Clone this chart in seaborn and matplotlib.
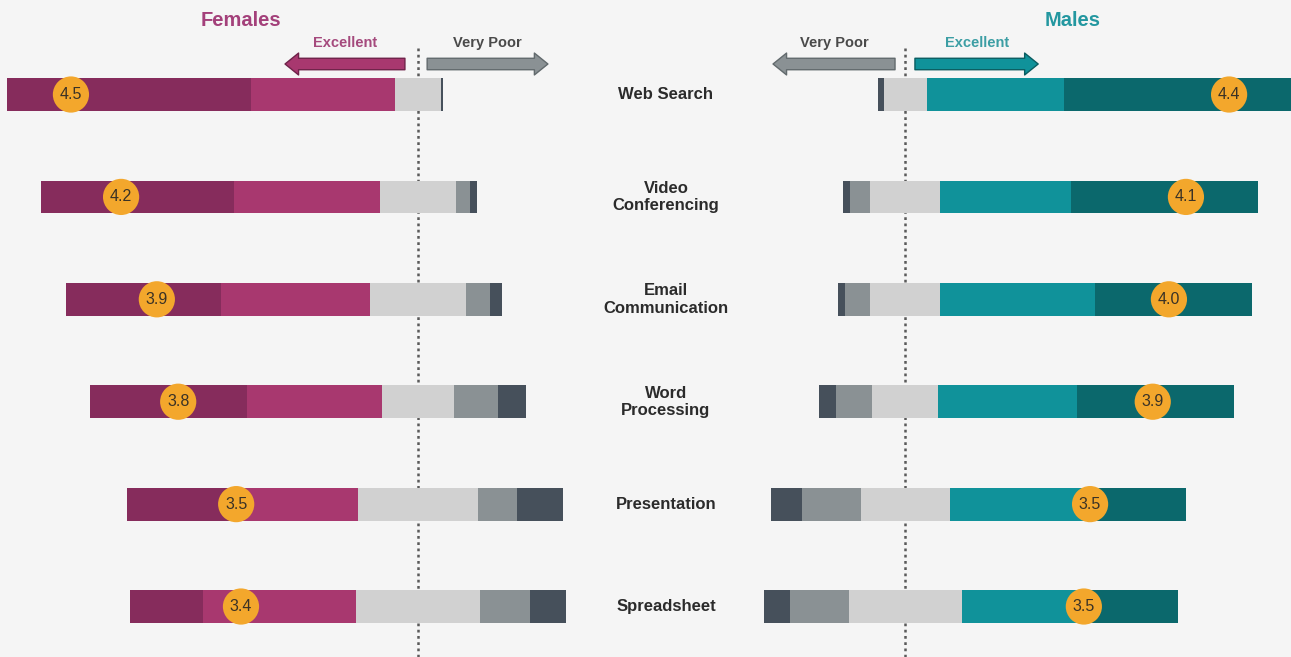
import numpy as np
import pandas as pd
import matplotlib.pyplot as plt
import matplotlib.transforms as mtransforms
import seaborn as sns

# ---------------------------
# data (percent of respondents per rating)
# ---------------------------
categories = ["Web Search", "Video\nConferencing", "Email\nCommunication",
              "Word\nProcessing", "Presentation", "Spreadsheet"]
levels = ["Very Poor", "Poor", "Average", "Good", "Excellent"]

female_very_poor = [0.5, 1.6, 2.8, 6.4, 10.7, 8.2]
female_poor = [0.0, 3.2, 5.5, 10.2, 8.9, 11.5]
female_average = [10.5, 17.6, 22.0, 16.4, 27.4, 28.3]
female_good = [33.0, 33.5, 34.2, 31.1, 28.5, 35.2]
female_excellent = [56.0, 44.1, 35.5, 35.9, 24.5, 16.8]

male_very_poor = [1.4, 1.6, 1.6, 4.1, 7.4, 6.3]
male_poor = [0.0, 5.0, 6.2, 8.7, 14.3, 14.2]
male_average = [10.2, 16.9, 16.9, 15.9, 21.3, 27.2]
male_good = [33.1, 31.4, 37.3, 33.3, 33.9, 29.4]
male_excellent = [55.3, 45.0, 37.8, 37.9, 23.1, 22.7]

# mean scores and where the badge sits (percent from centre, towards "Excellent")
female_score = ["4.5", "4.2", "3.9", "3.8", "3.5", "3.4"]
female_badge = [79.6, 68.1, 59.9, 55.0, 41.7, 40.6]
male_score = ["4.4", "4.1", "4.0", "3.9", "3.5", "3.5"]
male_badge = [78.0, 67.6, 63.5, 59.6, 44.5, 43.0]

# ---------------------------
# style
# ---------------------------
bg = "#f5f5f5"
sns.set_theme(style="white")
plt.rcParams['font.family'] = ['Liberation Sans', 'DejaVu Sans']
plt.rcParams['figure.facecolor'] = bg
plt.rcParams['axes.facecolor'] = bg

female_colors = ["#46505b", "#8a9194", "#d1d1d1", "#a8386f", "#862c5c"]
male_colors = ["#46505b", "#8a9194", "#d1d1d1", "#10929a", "#0b686c"]

W, H = 1291, 657
fig = plt.figure(figsize=(W / 100, H / 100), dpi=100)

# female panel: 0..600 px, centre at 418 px, 4.36 px per percent (inverted)
ax_f = fig.add_axes([0, 0, 600 / W, 1])
# male panel: 600..1291 px, centre at 905 px, 4.15 px per percent
ax_m = fig.add_axes([600 / W, 0, 691 / W, 1])


def diverging(ax, parts, colors):
    df = pd.DataFrame(dict(zip(levels, parts)))
    df["category"] = categories
    # start so that the "Average" block is centred on zero
    start = -(df["Very Poor"] + df["Poor"] + df["Average"] / 2)
    for lev, col in zip(levels, colors):
        sns.barplot(data=df, x=lev, y="category", order=categories, orient="h",
                    left=start.values, color=col, width=0.32, errorbar=None,
                    saturation=1, linewidth=0, ax=ax, zorder=3)
        start = start + df[lev]
    ax.axvline(0, ymin=0, ymax=0.928, color="#5a5a5a", lw=1.8,
               ls=(0, (1.1, 1.4)), zorder=1)


diverging(ax_f, [female_very_poor, female_poor, female_average,
                 female_good, female_excellent], female_colors)
diverging(ax_m, [male_very_poor, male_poor, male_average,
                 male_good, male_excellent], male_colors)

ax_f.set_xlim(418 / 4.36, -182 / 4.36)
ax_m.set_xlim(-305.4 / 4.15, 385.6 / 4.15)
for ax in (ax_f, ax_m):
    ax.set_ylim(5.493, -0.923)
    ax.axis("off")

# score badges
for ax, pos, score in [(ax_f, female_badge, female_score),
                       (ax_m, male_badge, male_score)]:
    sns.scatterplot(x=pos, y=np.arange(len(categories)), s=680,
                    color="#f3a72c", edgecolor="none", ax=ax, zorder=5,
                    legend=False)
    for i, (p, s) in enumerate(zip(pos, score)):
        ax.text(p, i, s, ha="center", va="center", fontsize=11.5,
                color="#3a3226", zorder=6)

# category labels in the middle
trans = mtransforms.blended_transform_factory(fig.transFigure, ax_m.transData)
for i, cat in enumerate(categories):
    ax_m.text(666 / W, i, cat, transform=trans, ha="center", va="center",
              fontsize=12, fontweight="bold", color="#2b2b2b",
              linespacing=1.2)

# titles
fig.text(241 / W, 1 - 20 / H, "Females", ha="center", va="center",
         fontsize=14.5, fontweight="bold", color="#a3407a")
fig.text(1073 / W, 1 - 20 / H, "Males", ha="center", va="center",
         fontsize=14.5, fontweight="bold", color="#2397a0")

# direction arrows
arrow_y = 1 - 64 / H
label_y = 1 - 43 / H


def direction(ax, tail, tip, face, edge, text, tcolor):
    tr = mtransforms.blended_transform_factory(ax.transData, fig.transFigure)
    ax.annotate("", xy=(tip, arrow_y), xytext=(tail, arrow_y),
                xycoords=tr, textcoords=tr, annotation_clip=False,
                arrowprops=dict(arrowstyle="simple,head_length=0.65,head_width=1.05,tail_width=0.55",
                                mutation_scale=15, fc=face, ec=edge, lw=1,
                                shrinkA=0, shrinkB=0))
    ax.text((tail + tip) / 2, label_y, text, transform=tr, ha="center",
            va="center", fontsize=10.5, fontweight="bold", color=tcolor)


direction(ax_f, 3.0, 30.5, "#a8386f", "#6f2249", "Excellent", "#a54a7d")
direction(ax_f, -2.1, -29.8, "#8a9194", "#626a6d", "Very Poor", "#4a4a4a")
direction(ax_m, -2.5, -31.9, "#8a9194", "#626a6d", "Very Poor", "#4a4a4a")
direction(ax_m, 2.3, 32.0, "#10929a", "#0a5d61", "Excellent", "#3c9ea4")

fig.savefig("out.png", dpi=100, facecolor=bg)
